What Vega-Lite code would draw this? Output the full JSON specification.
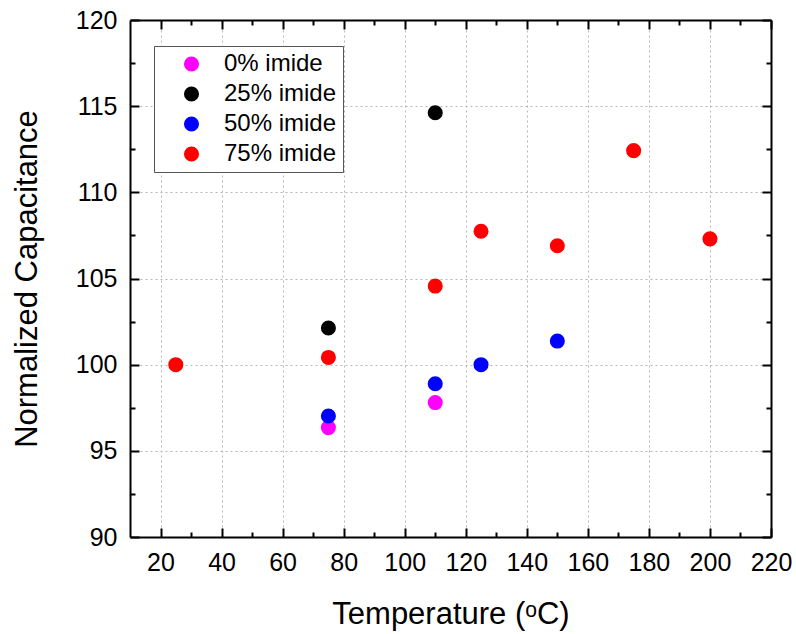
{
  "$schema": "https://vega.github.io/schema/vega-lite/v6.json",
  "width": 641,
  "height": 517,
  "autosize": {"type": "none"},
  "padding": {"left": 130, "top": 20, "right": 25, "bottom": 97},
  "background": "white",
  "config": {
    "view": {"stroke": null},
    "font": "Liberation Sans",
    "axis": {
      "domainColor": "#000000",
      "domainWidth": 2,
      "tickColor": "#000000",
      "tickWidth": 2,
      "labelColor": "#000000",
      "labelFont": "Liberation Sans",
      "labelFontSize": 25,
      "labelOverlap": false,
      "labelFlush": false,
      "titleFont": "Liberation Sans",
      "titleFontSize": 31,
      "titleFontWeight": "normal",
      "titleColor": "#000000",
      "gridColor": "#b5b5b5",
      "gridDash": [2, 3],
      "gridWidth": 1
    }
  },
  "data": {
    "values": [
      {"T": 75, "C": 96.35, "g": "0% imide"},
      {"T": 110, "C": 97.8, "g": "0% imide"},
      {"T": 75, "C": 102.13, "g": "25% imide"},
      {"T": 110, "C": 114.62, "g": "25% imide"},
      {"T": 75, "C": 97.02, "g": "50% imide"},
      {"T": 110, "C": 98.89, "g": "50% imide"},
      {"T": 125, "C": 100.0, "g": "50% imide"},
      {"T": 150, "C": 101.37, "g": "50% imide"},
      {"T": 25, "C": 100.0, "g": "75% imide"},
      {"T": 75, "C": 100.42, "g": "75% imide"},
      {"T": 110, "C": 104.56, "g": "75% imide"},
      {"T": 125, "C": 107.74, "g": "75% imide"},
      {"T": 150, "C": 106.9, "g": "75% imide"},
      {"T": 175, "C": 112.42, "g": "75% imide"},
      {"T": 200, "C": 107.3, "g": "75% imide"}
    ]
  },
  "layer": [
    {
      "mark": {"type": "circle", "opacity": 0},
      "encoding": {
        "x": {"field": "T", "type": "quantitative", "scale": {"domain": [10, 220], "nice": false, "zero": false},
          "axis": {"orient": "bottom", "values": [30, 50, 70, 90, 110, 130, 150, 170, 190, 210], "labels": false, "domain": false, "grid": false, "tickSize": -5, "title": null}},
        "y": {"field": "C", "type": "quantitative", "scale": {"domain": [90, 120], "nice": false, "zero": false},
          "axis": {"orient": "left", "values": [92.5, 97.5, 102.5, 107.5, 112.5, 117.5], "labels": false, "domain": false, "grid": false, "tickSize": -5, "title": null}}
      }
    },
    {
      "mark": {"type": "circle", "opacity": 0},
      "encoding": {
        "x": {"field": "T", "type": "quantitative", "scale": {"domain": [10, 220], "nice": false, "zero": false},
          "axis": {"orient": "top", "values": [20, 40, 60, 80, 100, 120, 140, 160, 180, 200, 220], "labels": false, "grid": false, "tickSize": -9, "title": null}},
        "y": {"field": "C", "type": "quantitative", "scale": {"domain": [90, 120], "nice": false, "zero": false},
          "axis": {"orient": "right", "values": [90, 95, 100, 105, 110, 115, 120], "labels": false, "grid": false, "tickSize": -9, "title": null}}
      }
    },
    {
      "mark": {"type": "circle", "opacity": 0},
      "encoding": {
        "x": {"field": "T", "type": "quantitative", "scale": {"domain": [10, 220], "nice": false, "zero": false},
          "axis": {"orient": "top", "values": [30, 50, 70, 90, 110, 130, 150, 170, 190, 210], "labels": false, "domain": false, "grid": false, "tickSize": -5, "title": null}},
        "y": {"field": "C", "type": "quantitative", "scale": {"domain": [90, 120], "nice": false, "zero": false},
          "axis": {"orient": "right", "values": [92.5, 97.5, 102.5, 107.5, 112.5, 117.5], "labels": false, "domain": false, "grid": false, "tickSize": -5, "title": null}}
      }
    },
    {
      "mark": {"type": "circle", "size": 227, "opacity": 1},
      "encoding": {
        "x": {"field": "T", "type": "quantitative", "scale": {"domain": [10, 220], "nice": false, "zero": false},
          "axis": {"orient": "bottom", "values": [20, 40, 60, 80, 100, 120, 140, 160, 180, 200, 220], "grid": true, "tickSize": -9, "labelPadding": 22, "title": "Temperature (ᵒC)", "titlePadding": 24}},
        "y": {"field": "C", "type": "quantitative", "scale": {"domain": [90, 120], "nice": false, "zero": false},
          "axis": {"orient": "left", "values": [90, 95, 100, 105, 110, 115, 120], "grid": true, "tickSize": -9, "labelPadding": 22, "title": "Normalized Capacitance", "titlePadding": 32}},
        "color": {"field": "g", "type": "nominal",
          "scale": {"domain": ["0% imide", "25% imide", "50% imide", "75% imide"], "range": ["#ff00ff", "#000000", "#0000ff", "#ff0000"]},
          "legend": {"orient": "none", "legendX": 24, "legendY": 26, "title": null, "symbolType": "circle", "symbolSize": 227, "symbolFillColor": null, "symbolStrokeWidth": 0, "labelFontSize": 24, "labelFont": "Liberation Sans", "labelColor": "#000000", "padding": 6, "symbolOffset": 19.5, "labelOffset": 20.5, "rowPadding": 6, "strokeColor": "#555555", "fillColor": "white"}}
      }
    }
  ],
  "resolve": {"axis": {"x": "independent", "y": "independent"}}
}
